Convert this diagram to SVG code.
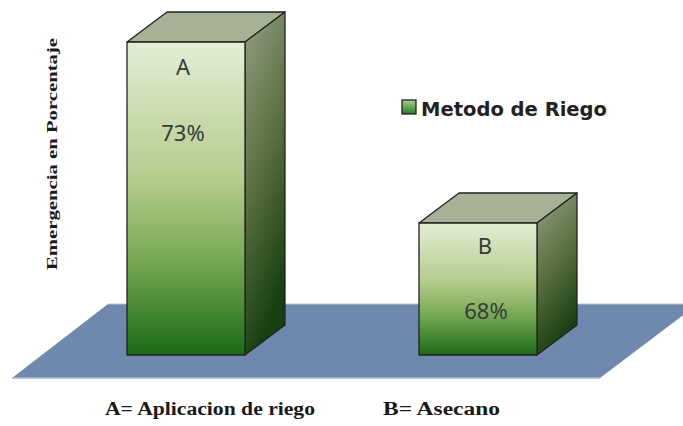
<svg xmlns="http://www.w3.org/2000/svg" width="683" height="426" viewBox="0 0 683 426">
<defs>
<linearGradient id="front" x1="0" y1="0" x2="0" y2="1">
<stop offset="0" stop-color="#e3eed5"/>
<stop offset="0.45" stop-color="#b3cb8b"/>
<stop offset="0.7" stop-color="#76a853"/>
<stop offset="1" stop-color="#1b6b17"/>
</linearGradient>
<linearGradient id="side" x1="0" y1="0" x2="0.3" y2="1">
<stop offset="0" stop-color="#949f86"/>
<stop offset="0.5" stop-color="#5d7242"/>
<stop offset="1" stop-color="#173f10"/>
</linearGradient>
<linearGradient id="leg" x1="0" y1="0" x2="0" y2="1">
<stop offset="0" stop-color="#a9d08a"/>
<stop offset="1" stop-color="#2c7a22"/>
</linearGradient>
<style>
.edge{stroke:#222;stroke-width:1.3;stroke-linejoin:round}
.top{fill:#a6b195}
.lbl{font-family:"Noto Sans","DejaVu Sans",sans-serif;font-size:22px;fill:#3a3a3a;text-anchor:middle}
.cap{font-family:"Liberation Serif",serif;font-weight:bold;fill:#1a1a1a}
</style>
</defs>
<rect width="683" height="426" fill="#ffffff"/>
<g id="floor">
<polygon points="108,304 698,304 600,378 12,378" fill="#6f89ae"/>
<line x1="12" y1="378" x2="600" y2="378" stroke="#a9b8cc" stroke-width="1.5"/>
<line x1="108" y1="304" x2="683" y2="304" stroke="#b9c2cf" stroke-width="1"/>
</g>
<g id="barA">
<polygon class="top edge" points="127,42 245,42 285,12 167,12"/>
<polygon class="edge" fill="url(#side)" points="245,42 285,12 285,325 245,355"/>
<rect class="edge" x="127" y="42" width="118" height="313" fill="url(#front)"/>
<text class="lbl" x="183" y="75">A</text>
<text class="lbl" x="183" y="141">73%</text>
</g>
<g id="barB">
<polygon class="top edge" points="419,223 537,223 577,193 459,193"/>
<polygon class="edge" fill="url(#side)" points="537,223 577,193 577,325 537,355"/>
<rect class="edge" x="419" y="223" width="118" height="132" fill="url(#front)"/>
<text class="lbl" x="485" y="254">B</text>
<text class="lbl" x="486" y="319">68%</text>
</g>
<g id="legend">
<rect x="402" y="100" width="14" height="14" fill="url(#leg)" stroke="#222" stroke-width="1.3"/>
<text x="421" y="116" font-family="'DejaVu Sans',sans-serif" font-weight="bold" font-size="20" fill="#222" textLength="186" lengthAdjust="spacingAndGlyphs">Metodo de Riego</text>
</g>
<g id="yaxis">
<text class="cap" transform="translate(57,154) rotate(-90)" text-anchor="middle" font-size="15" textLength="232" lengthAdjust="spacingAndGlyphs">Emergencia en Porcentaje</text>
</g>
<g id="xlabels">
<text class="cap" x="105" y="415" font-size="18" textLength="210" lengthAdjust="spacingAndGlyphs">A= Aplicacion de riego</text>
<text class="cap" x="383" y="415" font-size="18" textLength="117" lengthAdjust="spacingAndGlyphs">B= Asecano</text>
</g>
</svg>
